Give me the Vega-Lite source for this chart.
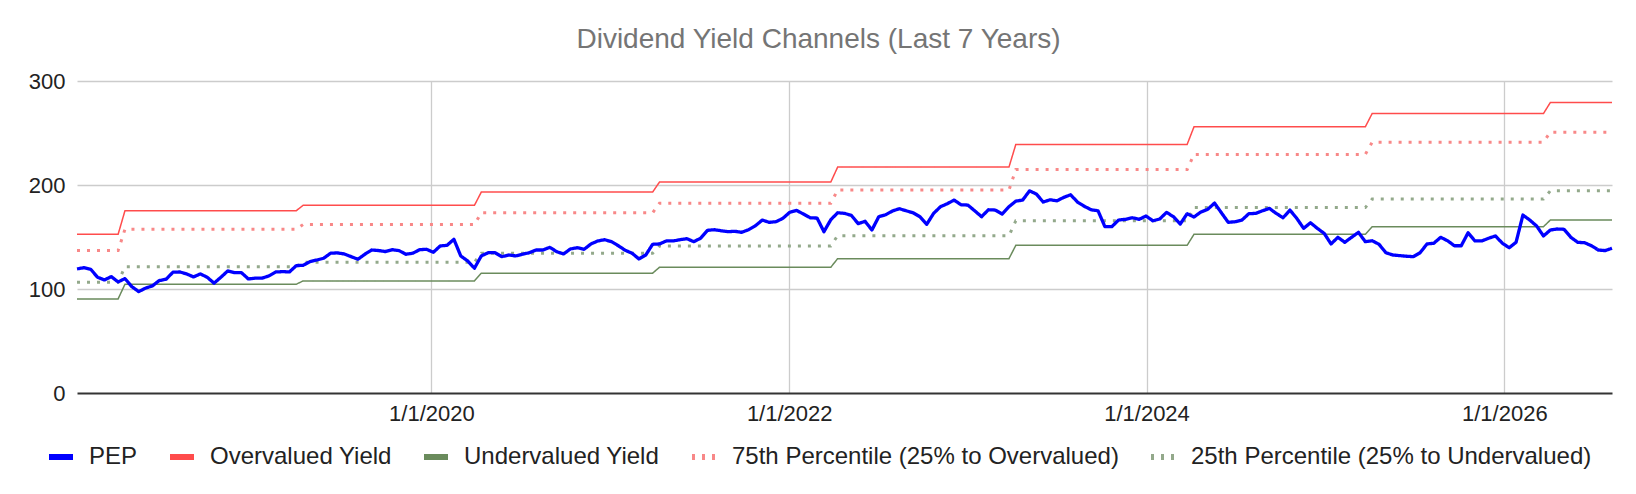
{
  "$schema": "https://vega.github.io/schema/vega-lite/v6.json",
  "description": "Dividend yield channels for PEP, biweekly",
  "width": 1535,
  "height": 312,
  "autosize": {"type": "none"},
  "padding": {"left": 77, "top": 81, "right": 24, "bottom": 101},
  "background": "white",
  "title": {
    "text": "Dividend Yield Channels (Last 7 Years)",
    "anchor": "middle", "frame": "group", "dx": -26, "offset": 16,
    "fontSize": 28, "fontWeight": "normal", "color": "#757575", "font": "Liberation Sans"
  },
  "data": {"values": [
    {"date": "2018-01-07", "series": "Overvalued Yield", "value": 152.6},
    {"date": "2018-04-01", "series": "Overvalued Yield", "value": 152.6},
    {"date": "2018-04-15", "series": "Overvalued Yield", "value": 175.3},
    {"date": "2019-03-31", "series": "Overvalued Yield", "value": 175.3},
    {"date": "2019-04-14", "series": "Overvalued Yield", "value": 180.5},
    {"date": "2020-03-29", "series": "Overvalued Yield", "value": 180.5},
    {"date": "2020-04-12", "series": "Overvalued Yield", "value": 193.2},
    {"date": "2021-03-28", "series": "Overvalued Yield", "value": 193.2},
    {"date": "2021-04-11", "series": "Overvalued Yield", "value": 202.8},
    {"date": "2022-03-27", "series": "Overvalued Yield", "value": 202.8},
    {"date": "2022-04-10", "series": "Overvalued Yield", "value": 217.2},
    {"date": "2023-03-26", "series": "Overvalued Yield", "value": 217.2},
    {"date": "2023-04-09", "series": "Overvalued Yield", "value": 239.0},
    {"date": "2024-03-24", "series": "Overvalued Yield", "value": 239.0},
    {"date": "2024-04-07", "series": "Overvalued Yield", "value": 255.9},
    {"date": "2025-03-23", "series": "Overvalued Yield", "value": 255.9},
    {"date": "2025-04-06", "series": "Overvalued Yield", "value": 268.7},
    {"date": "2026-03-22", "series": "Overvalued Yield", "value": 268.7},
    {"date": "2026-04-05", "series": "Overvalued Yield", "value": 279.3},
    {"date": "2026-08-09", "series": "Overvalued Yield", "value": 279.3},

    {"date": "2018-01-07", "series": "Undervalued Yield", "value": 90.5},
    {"date": "2018-04-01", "series": "Undervalued Yield", "value": 90.5},
    {"date": "2018-04-15", "series": "Undervalued Yield", "value": 104.6},
    {"date": "2019-03-31", "series": "Undervalued Yield", "value": 104.6},
    {"date": "2019-04-14", "series": "Undervalued Yield", "value": 107.8},
    {"date": "2020-03-29", "series": "Undervalued Yield", "value": 107.8},
    {"date": "2020-04-12", "series": "Undervalued Yield", "value": 115.2},
    {"date": "2021-03-28", "series": "Undervalued Yield", "value": 115.2},
    {"date": "2021-04-11", "series": "Undervalued Yield", "value": 120.9},
    {"date": "2022-03-27", "series": "Undervalued Yield", "value": 120.9},
    {"date": "2022-04-10", "series": "Undervalued Yield", "value": 129.2},
    {"date": "2023-03-26", "series": "Undervalued Yield", "value": 129.2},
    {"date": "2023-04-09", "series": "Undervalued Yield", "value": 142.0},
    {"date": "2024-03-24", "series": "Undervalued Yield", "value": 142.0},
    {"date": "2024-04-07", "series": "Undervalued Yield", "value": 152.6},
    {"date": "2025-03-23", "series": "Undervalued Yield", "value": 152.6},
    {"date": "2025-04-06", "series": "Undervalued Yield", "value": 159.9},
    {"date": "2026-03-22", "series": "Undervalued Yield", "value": 159.9},
    {"date": "2026-04-05", "series": "Undervalued Yield", "value": 166.3},
    {"date": "2026-08-09", "series": "Undervalued Yield", "value": 166.3},

    {"date": "2018-01-07", "series": "75th Percentile (25% to Overvalued)", "value": 136.9},
    {"date": "2018-04-01", "series": "75th Percentile (25% to Overvalued)", "value": 136.9},
    {"date": "2018-04-15", "series": "75th Percentile (25% to Overvalued)", "value": 157.4},
    {"date": "2019-03-31", "series": "75th Percentile (25% to Overvalued)", "value": 157.4},
    {"date": "2019-04-14", "series": "75th Percentile (25% to Overvalued)", "value": 162.0},
    {"date": "2020-03-29", "series": "75th Percentile (25% to Overvalued)", "value": 162.0},
    {"date": "2020-04-12", "series": "75th Percentile (25% to Overvalued)", "value": 173.3},
    {"date": "2021-03-28", "series": "75th Percentile (25% to Overvalued)", "value": 173.3},
    {"date": "2021-04-11", "series": "75th Percentile (25% to Overvalued)", "value": 182.5},
    {"date": "2022-03-27", "series": "75th Percentile (25% to Overvalued)", "value": 182.5},
    {"date": "2022-04-10", "series": "75th Percentile (25% to Overvalued)", "value": 195.1},
    {"date": "2023-03-26", "series": "75th Percentile (25% to Overvalued)", "value": 195.1},
    {"date": "2023-04-09", "series": "75th Percentile (25% to Overvalued)", "value": 214.8},
    {"date": "2024-03-24", "series": "75th Percentile (25% to Overvalued)", "value": 214.8},
    {"date": "2024-04-07", "series": "75th Percentile (25% to Overvalued)", "value": 229.4},
    {"date": "2025-03-23", "series": "75th Percentile (25% to Overvalued)", "value": 229.4},
    {"date": "2025-04-06", "series": "75th Percentile (25% to Overvalued)", "value": 241.2},
    {"date": "2026-03-22", "series": "75th Percentile (25% to Overvalued)", "value": 241.2},
    {"date": "2026-04-05", "series": "75th Percentile (25% to Overvalued)", "value": 250.8},
    {"date": "2026-08-09", "series": "75th Percentile (25% to Overvalued)", "value": 250.8},

    {"date": "2018-01-07", "series": "25th Percentile (25% to Undervalued)", "value": 106.5},
    {"date": "2018-04-01", "series": "25th Percentile (25% to Undervalued)", "value": 106.5},
    {"date": "2018-04-15", "series": "25th Percentile (25% to Undervalued)", "value": 121.5},
    {"date": "2019-03-31", "series": "25th Percentile (25% to Undervalued)", "value": 121.5},
    {"date": "2019-04-14", "series": "25th Percentile (25% to Undervalued)", "value": 125.7},
    {"date": "2020-03-29", "series": "25th Percentile (25% to Undervalued)", "value": 125.7},
    {"date": "2020-04-12", "series": "25th Percentile (25% to Undervalued)", "value": 134.4},
    {"date": "2021-03-28", "series": "25th Percentile (25% to Undervalued)", "value": 134.4},
    {"date": "2021-04-11", "series": "25th Percentile (25% to Undervalued)", "value": 141.4},
    {"date": "2022-03-27", "series": "25th Percentile (25% to Undervalued)", "value": 141.4},
    {"date": "2022-04-10", "series": "25th Percentile (25% to Undervalued)", "value": 151.3},
    {"date": "2023-03-26", "series": "25th Percentile (25% to Undervalued)", "value": 151.3},
    {"date": "2023-04-09", "series": "25th Percentile (25% to Undervalued)", "value": 165.6},
    {"date": "2024-03-24", "series": "25th Percentile (25% to Undervalued)", "value": 165.6},
    {"date": "2024-04-07", "series": "25th Percentile (25% to Undervalued)", "value": 178.3},
    {"date": "2025-03-23", "series": "25th Percentile (25% to Undervalued)", "value": 178.3},
    {"date": "2025-04-06", "series": "25th Percentile (25% to Undervalued)", "value": 186.5},
    {"date": "2026-03-22", "series": "25th Percentile (25% to Undervalued)", "value": 186.5},
    {"date": "2026-04-05", "series": "25th Percentile (25% to Undervalued)", "value": 194.4},
    {"date": "2026-08-09", "series": "25th Percentile (25% to Undervalued)", "value": 194.4},

    {"date": "2018-01-07", "series": "PEP", "value": 119.3},
    {"date": "2018-01-21", "series": "PEP", "value": 120.5},
    {"date": "2018-02-04", "series": "PEP", "value": 119.0},
    {"date": "2018-02-18", "series": "PEP", "value": 111.3},
    {"date": "2018-03-04", "series": "PEP", "value": 108.7},
    {"date": "2018-03-18", "series": "PEP", "value": 111.9},
    {"date": "2018-04-01", "series": "PEP", "value": 106.8},
    {"date": "2018-04-15", "series": "PEP", "value": 110.0},
    {"date": "2018-04-29", "series": "PEP", "value": 102.3},
    {"date": "2018-05-13", "series": "PEP", "value": 97.5},
    {"date": "2018-05-27", "series": "PEP", "value": 100.8},
    {"date": "2018-06-10", "series": "PEP", "value": 103.0},
    {"date": "2018-06-24", "series": "PEP", "value": 108.1},
    {"date": "2018-07-08", "series": "PEP", "value": 109.4},
    {"date": "2018-07-22", "series": "PEP", "value": 116.1},
    {"date": "2018-08-05", "series": "PEP", "value": 116.4},
    {"date": "2018-08-19", "series": "PEP", "value": 114.5},
    {"date": "2018-09-02", "series": "PEP", "value": 111.6},
    {"date": "2018-09-16", "series": "PEP", "value": 114.5},
    {"date": "2018-09-30", "series": "PEP", "value": 111.3},
    {"date": "2018-10-14", "series": "PEP", "value": 105.6},
    {"date": "2018-10-28", "series": "PEP", "value": 111.3},
    {"date": "2018-11-11", "series": "PEP", "value": 117.4},
    {"date": "2018-11-25", "series": "PEP", "value": 115.7},
    {"date": "2018-12-09", "series": "PEP", "value": 115.7},
    {"date": "2018-12-23", "series": "PEP", "value": 109.7},
    {"date": "2019-01-06", "series": "PEP", "value": 110.4},
    {"date": "2019-01-20", "series": "PEP", "value": 110.4},
    {"date": "2019-02-03", "series": "PEP", "value": 112.6},
    {"date": "2019-02-17", "series": "PEP", "value": 116.4},
    {"date": "2019-03-03", "series": "PEP", "value": 116.7},
    {"date": "2019-03-17", "series": "PEP", "value": 116.4},
    {"date": "2019-03-31", "series": "PEP", "value": 122.5},
    {"date": "2019-04-14", "series": "PEP", "value": 122.8},
    {"date": "2019-04-28", "series": "PEP", "value": 126.3},
    {"date": "2019-05-12", "series": "PEP", "value": 127.9},
    {"date": "2019-05-26", "series": "PEP", "value": 129.6},
    {"date": "2019-06-09", "series": "PEP", "value": 134.4},
    {"date": "2019-06-23", "series": "PEP", "value": 134.7},
    {"date": "2019-07-07", "series": "PEP", "value": 133.7},
    {"date": "2019-07-21", "series": "PEP", "value": 131.1},
    {"date": "2019-08-04", "series": "PEP", "value": 128.6},
    {"date": "2019-08-18", "series": "PEP", "value": 133.4},
    {"date": "2019-09-01", "series": "PEP", "value": 137.5},
    {"date": "2019-09-15", "series": "PEP", "value": 137.0},
    {"date": "2019-09-29", "series": "PEP", "value": 136.0},
    {"date": "2019-10-13", "series": "PEP", "value": 137.8},
    {"date": "2019-10-27", "series": "PEP", "value": 136.9},
    {"date": "2019-11-10", "series": "PEP", "value": 133.4},
    {"date": "2019-11-24", "series": "PEP", "value": 134.4},
    {"date": "2019-12-08", "series": "PEP", "value": 137.8},
    {"date": "2019-12-22", "series": "PEP", "value": 138.2},
    {"date": "2020-01-05", "series": "PEP", "value": 135.3},
    {"date": "2020-01-19", "series": "PEP", "value": 141.4},
    {"date": "2020-02-02", "series": "PEP", "value": 142.0},
    {"date": "2020-02-16", "series": "PEP", "value": 147.8},
    {"date": "2020-03-01", "series": "PEP", "value": 131.8},
    {"date": "2020-03-15", "series": "PEP", "value": 127.0},
    {"date": "2020-03-29", "series": "PEP", "value": 120.0},
    {"date": "2020-04-12", "series": "PEP", "value": 131.8},
    {"date": "2020-04-26", "series": "PEP", "value": 134.9},
    {"date": "2020-05-10", "series": "PEP", "value": 134.9},
    {"date": "2020-05-24", "series": "PEP", "value": 131.1},
    {"date": "2020-06-07", "series": "PEP", "value": 132.7},
    {"date": "2020-06-21", "series": "PEP", "value": 131.8},
    {"date": "2020-07-05", "series": "PEP", "value": 133.4},
    {"date": "2020-07-19", "series": "PEP", "value": 134.9},
    {"date": "2020-08-02", "series": "PEP", "value": 137.5},
    {"date": "2020-08-16", "series": "PEP", "value": 137.5},
    {"date": "2020-08-30", "series": "PEP", "value": 140.1},
    {"date": "2020-09-13", "series": "PEP", "value": 135.9},
    {"date": "2020-09-27", "series": "PEP", "value": 133.7},
    {"date": "2020-10-11", "series": "PEP", "value": 138.5},
    {"date": "2020-10-25", "series": "PEP", "value": 139.7},
    {"date": "2020-11-08", "series": "PEP", "value": 138.2},
    {"date": "2020-11-22", "series": "PEP", "value": 143.3},
    {"date": "2020-12-06", "series": "PEP", "value": 146.2},
    {"date": "2020-12-20", "series": "PEP", "value": 147.4},
    {"date": "2021-01-03", "series": "PEP", "value": 145.5},
    {"date": "2021-01-17", "series": "PEP", "value": 141.6},
    {"date": "2021-01-31", "series": "PEP", "value": 137.2},
    {"date": "2021-02-14", "series": "PEP", "value": 134.4},
    {"date": "2021-02-28", "series": "PEP", "value": 128.9},
    {"date": "2021-03-14", "series": "PEP", "value": 132.7},
    {"date": "2021-03-28", "series": "PEP", "value": 143.0},
    {"date": "2021-04-11", "series": "PEP", "value": 143.3},
    {"date": "2021-04-25", "series": "PEP", "value": 146.2},
    {"date": "2021-05-09", "series": "PEP", "value": 146.2},
    {"date": "2021-05-23", "series": "PEP", "value": 147.4},
    {"date": "2021-06-06", "series": "PEP", "value": 148.4},
    {"date": "2021-06-20", "series": "PEP", "value": 145.5},
    {"date": "2021-07-04", "series": "PEP", "value": 148.8},
    {"date": "2021-07-18", "series": "PEP", "value": 156.4},
    {"date": "2021-08-01", "series": "PEP", "value": 157.0},
    {"date": "2021-08-15", "series": "PEP", "value": 156.0},
    {"date": "2021-08-29", "series": "PEP", "value": 155.1},
    {"date": "2021-09-12", "series": "PEP", "value": 155.5},
    {"date": "2021-09-26", "series": "PEP", "value": 154.5},
    {"date": "2021-10-10", "series": "PEP", "value": 157.0},
    {"date": "2021-10-24", "series": "PEP", "value": 160.8},
    {"date": "2021-11-07", "series": "PEP", "value": 166.3},
    {"date": "2021-11-21", "series": "PEP", "value": 164.1},
    {"date": "2021-12-05", "series": "PEP", "value": 164.7},
    {"date": "2021-12-19", "series": "PEP", "value": 167.9},
    {"date": "2022-01-02", "series": "PEP", "value": 173.7},
    {"date": "2022-01-16", "series": "PEP", "value": 175.6},
    {"date": "2022-01-30", "series": "PEP", "value": 172.1},
    {"date": "2022-02-13", "series": "PEP", "value": 168.5},
    {"date": "2022-02-27", "series": "PEP", "value": 168.2},
    {"date": "2022-03-13", "series": "PEP", "value": 155.1},
    {"date": "2022-03-27", "series": "PEP", "value": 166.6},
    {"date": "2022-04-10", "series": "PEP", "value": 173.3},
    {"date": "2022-04-24", "series": "PEP", "value": 172.7},
    {"date": "2022-05-08", "series": "PEP", "value": 170.8},
    {"date": "2022-05-22", "series": "PEP", "value": 162.8},
    {"date": "2022-06-05", "series": "PEP", "value": 165.1},
    {"date": "2022-06-19", "series": "PEP", "value": 156.7},
    {"date": "2022-07-03", "series": "PEP", "value": 169.5},
    {"date": "2022-07-17", "series": "PEP", "value": 171.4},
    {"date": "2022-07-31", "series": "PEP", "value": 175.0},
    {"date": "2022-08-14", "series": "PEP", "value": 177.2},
    {"date": "2022-08-28", "series": "PEP", "value": 175.2},
    {"date": "2022-09-11", "series": "PEP", "value": 173.3},
    {"date": "2022-09-25", "series": "PEP", "value": 169.5},
    {"date": "2022-10-09", "series": "PEP", "value": 162.2},
    {"date": "2022-10-23", "series": "PEP", "value": 172.7},
    {"date": "2022-11-06", "series": "PEP", "value": 179.1},
    {"date": "2022-11-20", "series": "PEP", "value": 182.0},
    {"date": "2022-12-04", "series": "PEP", "value": 185.5},
    {"date": "2022-12-18", "series": "PEP", "value": 181.0},
    {"date": "2023-01-01", "series": "PEP", "value": 180.7},
    {"date": "2023-01-15", "series": "PEP", "value": 175.2},
    {"date": "2023-01-29", "series": "PEP", "value": 169.5},
    {"date": "2023-02-12", "series": "PEP", "value": 176.2},
    {"date": "2023-02-26", "series": "PEP", "value": 175.9},
    {"date": "2023-03-12", "series": "PEP", "value": 172.1},
    {"date": "2023-03-26", "series": "PEP", "value": 179.1},
    {"date": "2023-04-09", "series": "PEP", "value": 184.5},
    {"date": "2023-04-23", "series": "PEP", "value": 185.5},
    {"date": "2023-05-07", "series": "PEP", "value": 194.4},
    {"date": "2023-05-21", "series": "PEP", "value": 191.3},
    {"date": "2023-06-04", "series": "PEP", "value": 183.6},
    {"date": "2023-06-18", "series": "PEP", "value": 185.8},
    {"date": "2023-07-02", "series": "PEP", "value": 184.8},
    {"date": "2023-07-16", "series": "PEP", "value": 188.1},
    {"date": "2023-07-30", "series": "PEP", "value": 190.6},
    {"date": "2023-08-13", "series": "PEP", "value": 183.6},
    {"date": "2023-08-27", "series": "PEP", "value": 179.5},
    {"date": "2023-09-10", "series": "PEP", "value": 176.2},
    {"date": "2023-09-24", "series": "PEP", "value": 175.2},
    {"date": "2023-10-08", "series": "PEP", "value": 159.9},
    {"date": "2023-10-22", "series": "PEP", "value": 159.9},
    {"date": "2023-11-05", "series": "PEP", "value": 166.3},
    {"date": "2023-11-19", "series": "PEP", "value": 167.0},
    {"date": "2023-12-03", "series": "PEP", "value": 168.5},
    {"date": "2023-12-17", "series": "PEP", "value": 167.0},
    {"date": "2023-12-31", "series": "PEP", "value": 170.2},
    {"date": "2024-01-14", "series": "PEP", "value": 165.6},
    {"date": "2024-01-28", "series": "PEP", "value": 167.3},
    {"date": "2024-02-11", "series": "PEP", "value": 173.7},
    {"date": "2024-02-25", "series": "PEP", "value": 169.5},
    {"date": "2024-03-10", "series": "PEP", "value": 162.5},
    {"date": "2024-03-24", "series": "PEP", "value": 172.4},
    {"date": "2024-04-07", "series": "PEP", "value": 169.2},
    {"date": "2024-04-21", "series": "PEP", "value": 174.0},
    {"date": "2024-05-05", "series": "PEP", "value": 176.6},
    {"date": "2024-05-19", "series": "PEP", "value": 182.6},
    {"date": "2024-06-02", "series": "PEP", "value": 173.3},
    {"date": "2024-06-16", "series": "PEP", "value": 164.1},
    {"date": "2024-06-30", "series": "PEP", "value": 164.7},
    {"date": "2024-07-14", "series": "PEP", "value": 166.3},
    {"date": "2024-07-28", "series": "PEP", "value": 172.4},
    {"date": "2024-08-11", "series": "PEP", "value": 172.7},
    {"date": "2024-08-25", "series": "PEP", "value": 175.2},
    {"date": "2024-09-08", "series": "PEP", "value": 177.5},
    {"date": "2024-09-22", "series": "PEP", "value": 172.7},
    {"date": "2024-10-06", "series": "PEP", "value": 168.5},
    {"date": "2024-10-20", "series": "PEP", "value": 175.9},
    {"date": "2024-11-03", "series": "PEP", "value": 167.9},
    {"date": "2024-11-17", "series": "PEP", "value": 158.3},
    {"date": "2024-12-01", "series": "PEP", "value": 163.7},
    {"date": "2024-12-15", "series": "PEP", "value": 158.3},
    {"date": "2024-12-29", "series": "PEP", "value": 153.5},
    {"date": "2025-01-12", "series": "PEP", "value": 143.3},
    {"date": "2025-01-26", "series": "PEP", "value": 149.7},
    {"date": "2025-02-09", "series": "PEP", "value": 144.9},
    {"date": "2025-02-23", "series": "PEP", "value": 149.7},
    {"date": "2025-03-09", "series": "PEP", "value": 154.5},
    {"date": "2025-03-23", "series": "PEP", "value": 145.5},
    {"date": "2025-04-06", "series": "PEP", "value": 146.4},
    {"date": "2025-04-20", "series": "PEP", "value": 143.0},
    {"date": "2025-05-04", "series": "PEP", "value": 134.9},
    {"date": "2025-05-18", "series": "PEP", "value": 132.7},
    {"date": "2025-06-01", "series": "PEP", "value": 132.1},
    {"date": "2025-06-15", "series": "PEP", "value": 131.5},
    {"date": "2025-06-29", "series": "PEP", "value": 131.1},
    {"date": "2025-07-13", "series": "PEP", "value": 134.9},
    {"date": "2025-07-27", "series": "PEP", "value": 143.3},
    {"date": "2025-08-10", "series": "PEP", "value": 144.0},
    {"date": "2025-08-24", "series": "PEP", "value": 149.7},
    {"date": "2025-09-07", "series": "PEP", "value": 146.4},
    {"date": "2025-09-21", "series": "PEP", "value": 141.6},
    {"date": "2025-10-05", "series": "PEP", "value": 141.6},
    {"date": "2025-10-19", "series": "PEP", "value": 154.1},
    {"date": "2025-11-02", "series": "PEP", "value": 146.2},
    {"date": "2025-11-16", "series": "PEP", "value": 146.2},
    {"date": "2025-11-30", "series": "PEP", "value": 148.8},
    {"date": "2025-12-14", "series": "PEP", "value": 151.0},
    {"date": "2025-12-28", "series": "PEP", "value": 144.0},
    {"date": "2026-01-11", "series": "PEP", "value": 139.7},
    {"date": "2026-01-25", "series": "PEP", "value": 144.9},
    {"date": "2026-02-08", "series": "PEP", "value": 171.1},
    {"date": "2026-02-22", "series": "PEP", "value": 166.3},
    {"date": "2026-03-08", "series": "PEP", "value": 160.6},
    {"date": "2026-03-22", "series": "PEP", "value": 151.0},
    {"date": "2026-04-05", "series": "PEP", "value": 156.7},
    {"date": "2026-04-19", "series": "PEP", "value": 157.7},
    {"date": "2026-05-03", "series": "PEP", "value": 157.4},
    {"date": "2026-05-17", "series": "PEP", "value": 149.7},
    {"date": "2026-05-31", "series": "PEP", "value": 144.9},
    {"date": "2026-06-14", "series": "PEP", "value": 144.5},
    {"date": "2026-06-28", "series": "PEP", "value": 141.6},
    {"date": "2026-07-12", "series": "PEP", "value": 137.5},
    {"date": "2026-07-26", "series": "PEP", "value": 136.9},
    {"date": "2026-08-09", "series": "PEP", "value": 139.2}
  ]},
  "encoding": {
    "x": {
      "field": "date", "type": "temporal",
      "scale": {"type": "utc", "domain": [
        {"year": 2018, "month": 1, "date": 7, "utc": true},
        {"year": 2026, "month": 8, "date": 9, "utc": true}
      ]},
      "axis": {
        "title": null,
        "values": [
          {"year": 2020, "month": 1, "date": 1, "utc": true},
          {"year": 2022, "month": 1, "date": 1, "utc": true},
          {"year": 2024, "month": 1, "date": 1, "utc": true},
          {"year": 2026, "month": 1, "date": 1, "utc": true}
        ],
        "labelExpr": "utcFormat(datum.value, '%-m/%-d/%Y')",
        "grid": true, "gridColor": "#cccccc", "gridWidth": 1.3,
        "ticks": false, "tickSize": 0,
        "domainColor": "#333333", "domainWidth": 2,
        "labelPadding": 10
      }
    },
    "y": {
      "field": "value", "type": "quantitative",
      "scale": {"domain": [0, 300], "nice": false},
      "axis": {
        "title": null,
        "values": [0, 100, 200, 300],
        "domain": false, "ticks": false, "tickSize": 0,
        "gridWidth": 1.3,
        "gridColor": {"condition": {"test": "datum.value === 0", "value": "transparent"}, "value": "#cccccc"},
        "labelPadding": 12
      }
    },
    "color": {
      "field": "series", "type": "nominal",
      "scale": {
        "domain": ["PEP", "Overvalued Yield", "Undervalued Yield", "75th Percentile (25% to Overvalued)", "25th Percentile (25% to Undervalued)"],
        "range": ["#0000ff", "#ff4c4c", "#6a8b5c", "#f88888", "#93a98b"]
      },
      "legend": {
        "title": null,
        "encode": {"symbols": {"update": {
          "strokeDash": {"signal": "indexof(datum.label, 'Percentile') >= 0 ? [6, 6] : [1, 0]"}
        }}}
      }
    },
    "strokeDash": {
      "field": "series", "type": "nominal",
      "scale": {
        "domain": ["PEP", "Overvalued Yield", "Undervalued Yield", "75th Percentile (25% to Overvalued)", "25th Percentile (25% to Undervalued)"],
        "range": [[1, 0], [1, 0], [1, 0], [3, 7], [3, 7]]
      },
      "legend": {
        "title": null,
        "encode": {"symbols": {"update": {
          "strokeDash": {"signal": "indexof(datum.label, 'Percentile') >= 0 ? [6, 6] : [1, 0]"}
        }}}
      }
    }
  },
  "layer": [
    {
      "transform": [{"filter": "datum.series == 'Overvalued Yield' || datum.series == 'Undervalued Yield'"}],
      "mark": {"type": "line", "strokeWidth": 1.5, "strokeCap": "butt"}
    },
    {
      "transform": [{"filter": "indexof(datum.series, 'Percentile') >= 0"}],
      "mark": {"type": "line", "strokeWidth": 3, "strokeCap": "butt"}
    },
    {
      "transform": [{"filter": "datum.series == 'PEP'"}],
      "mark": {"type": "line", "strokeWidth": 3.3, "strokeJoin": "round"}
    }
  ],
  "config": {
    "font": "Liberation Sans",
    "view": {"stroke": null},
    "axis": {"labelFontSize": 22, "labelColor": "#222222", "labelFont": "Liberation Sans"},
    "legend": {
      "orient": "none", "legendX": -31, "legendY": 361,
      "direction": "horizontal", "columns": 5,
      "symbolType": "stroke", "symbolSize": 576, "symbolStrokeWidth": 6,
      "labelFontSize": 24, "labelColor": "#222222", "labelFont": "Liberation Sans",
      "labelOffset": 13, "columnPadding": 20, "labelLimit": 0, "padding": 0
    }
  }
}
